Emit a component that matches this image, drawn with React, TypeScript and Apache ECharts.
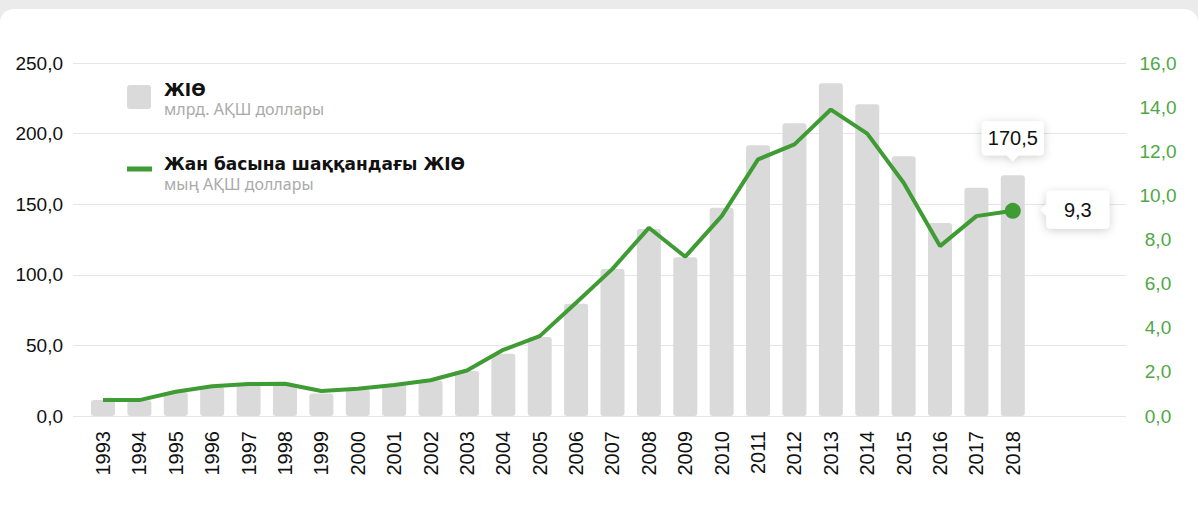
import React, { useEffect, useRef } from "react";
import * as echarts from "echarts";

const years = [
  "1993", "1994", "1995", "1996", "1997", "1998", "1999", "2000", "2001",
  "2002", "2003", "2004", "2005", "2006", "2007", "2008", "2009", "2010",
  "2011", "2012", "2013", "2014", "2015", "2016", "2017", "2018",
];

// ЖІӨ, млрд. АҚШ доллары
const gdp = [
  11.4, 11.2, 17.0, 20.8, 22.4, 22.4, 16.0, 18.7, 22.4, 25.2, 31.8, 44.1, 56.0,
  79.5, 104.1, 132.4, 112.4, 147.5, 191.7, 207.3, 235.6, 220.7, 183.9, 136.7,
  161.7, 170.5,
];

// Жан басына шаққандағы ЖІӨ, мың АҚШ доллары
const gdpPerCapita = [
  0.72, 0.72, 1.1, 1.35, 1.45, 1.46, 1.13, 1.23, 1.41, 1.62, 2.06, 3.0, 3.62,
  5.13, 6.67, 8.53, 7.22, 9.06, 11.63, 12.31, 13.89, 12.8, 10.57, 7.7, 9.06, 9.3,
];

const leftTicks = { min: 0, max: 250, interval: 50 };
const rightTicks = { min: 0, max: 16, interval: 2 };

const legendTitles = ["ЖІӨ", "Жан басына шаққандағы ЖІӨ"];
const legendSubtitles = ["млрд. АҚШ доллары", "мың АҚШ доллары"];

const GREEN = "#3f9b33";
const AXIS_GREEN = "#4fa845";
const BAR = "#dadada";
const GRID = "#e5e5e5";
const NUM_FONT = "'Liberation Sans', Arial, Helvetica, sans-serif";
const TITLE_FONT = "bold 17px 'DejaVu Sans', sans-serif";
const SUB_FONT = "16px 'Noto Sans', sans-serif";

const fmt = (v: number) => Number(v).toFixed(1).replace(".", ",");

const lastIdx = years.length - 1;

export default function App() {
  const ref = useRef<HTMLDivElement>(null);

  useEffect(() => {
    if (!ref.current) return;
    const chart = echarts.init(ref.current, null, { renderer: "svg" });

    const option: any = {
      animation: false,
      backgroundColor: "transparent",
      grid: [
        { left: 73, right: 72, top: 63, bottom: 92 },
        { left: 84.8, right: 167, top: 63, bottom: 92 },
      ],
      xAxis: [
        { type: "value", gridIndex: 0, show: false, min: 0, max: 1 },
        {
          type: "category",
          gridIndex: 1,
          data: years,
          boundaryGap: true,
          axisLine: { show: false },
          axisTick: { show: false },
          axisLabel: {
            rotate: 90,
            margin: 15,
            fontSize: 20,
            color: "#111",
            fontFamily: NUM_FONT,
            interval: 0,
          },
        },
      ],
      yAxis: [
        {
          type: "value",
          gridIndex: 0,
          position: "left",
          ...leftTicks,
          axisLine: { show: false },
          axisTick: { show: false },
          splitLine: { lineStyle: { color: GRID, width: 1 } },
          axisLabel: {
            margin: 10,
            fontSize: 19,
            color: "#111",
            fontFamily: NUM_FONT,
            formatter: (v: number) => fmt(v),
          },
        },
        {
          type: "value",
          gridIndex: 0,
          position: "right",
          ...rightTicks,
          axisLine: { show: false },
          axisTick: { show: false },
          splitLine: { show: false },
          axisLabel: {
            margin: 32,
            align: "center",
            fontSize: 19,
            color: AXIS_GREEN,
            fontFamily: NUM_FONT,
            formatter: (v: number) => fmt(v),
          },
        },
        { type: "value", gridIndex: 1, show: false, ...leftTicks, splitLine: { show: false } },
        { type: "value", gridIndex: 1, show: false, ...rightTicks, splitLine: { show: false } },
      ],
      series: [
        {
          name: legendTitles[0],
          type: "bar",
          xAxisIndex: 1,
          yAxisIndex: 2,
          data: gdp,
          barWidth: 24,
          itemStyle: { color: BAR, borderRadius: 3 },
          z: 2,
          markPoint: {
            symbol:
              "path://M4,0 H58 Q62,0 62,4 V30 Q62,34 58,34 H37 L31,40 L25,34 H4 Q0,34 0,30 V4 Q0,0 4,0 Z",
            symbolSize: [62, 40],
            symbolOffset: [0, -34],
            itemStyle: {
              color: "#fff",
              shadowBlur: 10,
              shadowColor: "rgba(0,0,0,0.18)",
              shadowOffsetY: 2,
            },
            label: {
              show: true,
              position: "inside",
              offset: [0, -3],
              fontSize: 20,
              color: "#111",
              fontFamily: NUM_FONT,
              formatter: (p: any) => fmt(p.value),
            },
            data: [{ coord: [lastIdx, gdp[lastIdx]], value: gdp[lastIdx] }],
          },
        },
        {
          name: legendTitles[1],
          type: "line",
          xAxisIndex: 1,
          yAxisIndex: 3,
          symbol: "none",
          data: gdpPerCapita.map((v, i) =>
            i === lastIdx ? { value: v, symbol: "circle", symbolSize: 16 } : v
          ),
          lineStyle: { color: GREEN, width: 4 },
          itemStyle: { color: GREEN },
          z: 3,
          markPoint: {
            symbol:
              "path://M10,0 H65 Q69,0 69,4 V34 Q69,38 65,38 H10 Q6,38 6,34 V25 L0,19 L6,13 V4 Q6,0 10,0 Z",
            symbolSize: [69, 38],
            symbolOffset: [62, -1],
            itemStyle: {
              color: "#fff",
              shadowBlur: 10,
              shadowColor: "rgba(0,0,0,0.18)",
              shadowOffsetY: 2,
            },
            label: {
              show: true,
              position: "inside",
              offset: [3, 0],
              fontSize: 20,
              color: "#111",
              fontFamily: NUM_FONT,
              formatter: (p: any) => fmt(p.value),
            },
            data: [
              { coord: [lastIdx, gdpPerCapita[lastIdx]], value: gdpPerCapita[lastIdx] },
            ],
          },
        },
      ],
      graphic: [
        {
          type: "rect",
          shape: { x: 127, y: 85, width: 24, height: 24, r: 3 },
          style: { fill: BAR },
          z: 10,
        },
        {
          type: "text",
          x: 164,
          y: 89.5,
          style: { text: legendTitles[0], font: TITLE_FONT, fill: "#111", verticalAlign: "middle" },
          z: 10,
        },
        {
          type: "text",
          x: 164,
          y: 109,
          style: { text: legendSubtitles[0], font: SUB_FONT, fill: "#aaaaaa", verticalAlign: "middle" },
          z: 10,
        },
        {
          type: "rect",
          shape: { x: 127, y: 166.5, width: 25, height: 5 },
          style: { fill: GREEN },
          z: 10,
        },
        {
          type: "text",
          x: 164,
          y: 163.5,
          style: { text: legendTitles[1], font: TITLE_FONT, fill: "#111", verticalAlign: "middle" },
          z: 10,
        },
        {
          type: "text",
          x: 164,
          y: 183.5,
          style: { text: legendSubtitles[1], font: SUB_FONT, fill: "#aaaaaa", verticalAlign: "middle" },
          z: 10,
        },
      ],
    };

    chart.setOption(option);
    return () => chart.dispose();
  }, []);

  return (
    <div
      style={{
        position: "absolute",
        left: 0,
        top: 0,
        width: 1198,
        height: 508,
        background: "#ebebeb",
        overflow: "hidden",
      }}
    >
      <div
        style={{
          position: "absolute",
          left: 0,
          top: 9,
          width: 1198,
          height: 499,
          background: "#ffffff",
          borderRadius: "14px 14px 0 0",
        }}
      />
      <div
        ref={ref}
        style={{ position: "absolute", left: 0, top: 0, width: 1198, height: 508 }}
      />
    </div>
  );
}
